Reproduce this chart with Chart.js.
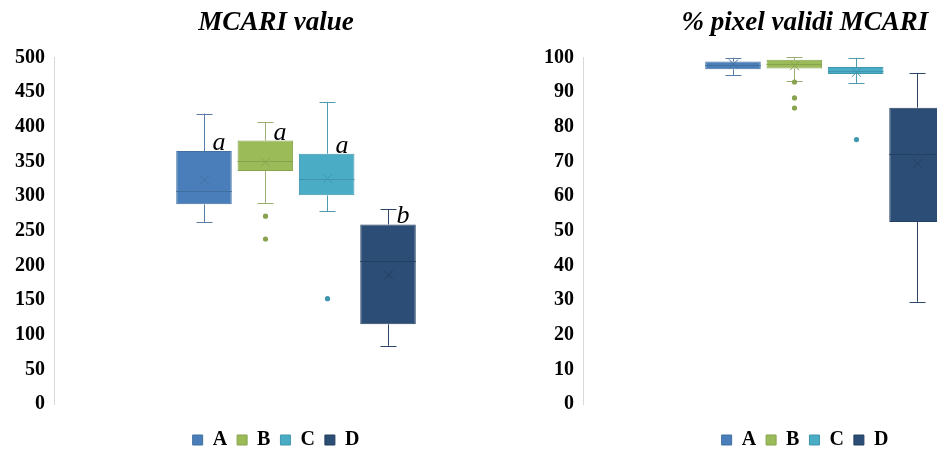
<!DOCTYPE html>
<html>
<head>
<meta charset="utf-8">
<script src="https://cdn.jsdelivr.net/npm/chart.js@4/dist/chart.umd.min.js"></script>
<style>
  html, body { margin: 0; padding: 0; background: #ffffff; overflow: hidden; width: 937px; height: 452px; }
  .panel { position: absolute; top: 0; }
  #left { left: 0; }
  #right { left: 529px; }
</style>
</head>
<body>
<canvas id="left" class="panel" width="552" height="460"></canvas>
<canvas id="right" class="panel" width="552" height="460"></canvas>
<script>
// Groups compared in both panels
const groups = ['A', 'B', 'C', 'D'];

// MCARI value: five-number summaries, means and outliers per group
const mcariMin = [262, 290, 278, 84];
const mcariQ1 = [288, 336, 301, 115];
const mcariMedian = [307, 350, 324, 206];
const mcariQ3 = [365, 380, 361, 259];
const mcariMax = [419, 407, 436, 281];
const mcariMean = [323, 349, 325, 186];
const mcariOutliers = [[], [271, 238], [152], []];
const mcariLetters = ['a', 'a', 'a', 'b'];
const mcariTicks = [0, 50, 100, 150, 200, 250, 300, 350, 400, 450, 500];

// % pixel validi MCARI: five-number summaries, means and outliers per group
const pctMin = [94.8, 93.3, 92.6, 29.5];
const pctQ1 = [96.6, 96.8, 95.2, 52.5];
const pctMedian = [97.8, 98.1, 96.2, 72.2];
const pctQ3 = [98.8, 99.3, 97.2, 85.5];
const pctMax = [99.9, 100, 99.9, 95.5];
const pctMean = [98.1, 97.6, 95.7, 69.4];
const pctOutliers = [[], [92.9, 88.3, 85.4], [76.3], []];
const pctLetters = ['', '', '', ''];
const pctTicks = [0, 10, 20, 30, 40, 50, 60, 70, 80, 90, 100];

// Styling
const fillColors = ['#4A7EBB', '#9BBB59', '#4BACC6', '#2C4D75'];
const edgeColors = ['#41709F', '#87A34E', '#3F97AF', '#243F60'];
const whiskerColors = ['#5A7DA8', '#9AAD72', '#4E9BB0', '#2C4466'];
const serif = "'Liberation Serif', 'Times New Roman', serif";

// Draws whiskers, medians, means, outliers and group letters on top of the boxes
const boxPlotPlugin = {
  id: 'boxPlot',
  afterDatasetsDraw(chart, args, opts) {
    const ctx = chart.ctx;
    const y = chart.scales.y;
    const py = v => y.getPixelForValue(v);
    chart.data.datasets.forEach((ds, i) => {
      const bar = chart.getDatasetMeta(i).data[0];
      const cx = Math.round(bar.x) + 0.5;
      const hw = bar.width / 2;
      const capHalf = 8;
      ctx.save();
      ctx.lineWidth = 1;

      // whiskers and caps
      ctx.strokeStyle = whiskerColors[i];
      ctx.beginPath();
      ctx.moveTo(cx, py(opts.q3[i])); ctx.lineTo(cx, py(opts.max[i]));
      ctx.moveTo(cx, py(opts.q1[i])); ctx.lineTo(cx, py(opts.min[i]));
      const yMax = Math.round(py(opts.max[i])) + 0.5;
      const yMin = Math.round(py(opts.min[i])) + 0.5;
      ctx.moveTo(cx - capHalf, yMax); ctx.lineTo(cx + capHalf, yMax);
      ctx.moveTo(cx - capHalf, yMin); ctx.lineTo(cx + capHalf, yMin);
      ctx.stroke();

      // median
      ctx.strokeStyle = edgeColors[i];
      const yMed = Math.round(py(opts.median[i])) + 0.5;
      ctx.beginPath();
      ctx.moveTo(bar.x - hw, yMed); ctx.lineTo(bar.x + hw, yMed);
      ctx.stroke();

      // mean marker
      const ym = py(opts.mean[i]);
      const m = 4.5;
      ctx.beginPath();
      ctx.moveTo(cx - m, ym - m); ctx.lineTo(cx + m, ym + m);
      ctx.moveTo(cx + m, ym - m); ctx.lineTo(cx - m, ym + m);
      ctx.stroke();

      // outliers
      ctx.fillStyle = edgeColors[i];
      opts.outliers[i].forEach(v => {
        ctx.beginPath();
        ctx.arc(cx, py(v), 2.6, 0, Math.PI * 2);
        ctx.fill();
      });

      // significance letter
      if (opts.letters[i]) {
        ctx.fillStyle = '#000000';
        ctx.font = 'italic 26px ' + serif;
        ctx.textAlign = 'left';
        ctx.textBaseline = 'alphabetic';
        ctx.fillText(opts.letters[i], cx + 8, py(opts.q3[i]) - 1);
      }
      ctx.restore();
    });
  }
};

function buildChart(canvasId, title, stats, ticks, maxValue) {
  const datasets = groups.map((g, i) => ({
    label: g,
    data: [[stats.q1[i], stats.q3[i]]],
    backgroundColor: fillColors[i],
    borderColor: edgeColors[i],
    borderWidth: 1,
    borderSkipped: false
  }));
  return new Chart(document.getElementById(canvasId), {
    type: 'bar',
    data: { labels: [''], datasets },
    plugins: [boxPlotPlugin],
    options: {
      responsive: false,
      animation: false,
      devicePixelRatio: 1,
      categoryPercentage: 0.507,
      barPercentage: 0.905,
      layout: { padding: { left: 14, right: 14, top: 0, bottom: 0 } },
      scales: {
        x: {
          type: 'category',
          display: true,
          grid: { display: false, drawTicks: false },
          border: { display: false },
          ticks: { display: false },
          afterFit: s => { s.height = 16; }
        },
        y: {
          min: 0,
          max: maxValue,
          grid: { display: false, drawTicks: false },
          border: { display: true, color: '#D9D9D9', width: 1 },
          afterBuildTicks: s => { s.ticks = ticks.map(v => ({ value: v })); },
          ticks: {
            color: '#000000',
            padding: 9,
            font: { family: serif, size: 20, weight: 'bold' }
          },
          afterFit: s => { s.width = 40; }
        }
      },
      plugins: {
        title: {
          display: true,
          text: title,
          color: '#000000',
          font: { family: serif, size: 27, weight: 'bold', style: 'italic' },
          padding: { top: 7, bottom: 18 }
        },
        legend: {
          display: true,
          position: 'bottom',
          labels: {
            color: '#000000',
            boxWidth: 10,
            boxHeight: 10,
            padding: 10,
            font: { family: serif, size: 20, weight: 'bold' }
          }
        },
        tooltip: { enabled: false },
        boxPlot: stats
      }
    }
  });
}

buildChart('left', 'MCARI value', {
  min: mcariMin, q1: mcariQ1, median: mcariMedian, q3: mcariQ3, max: mcariMax,
  mean: mcariMean, outliers: mcariOutliers, letters: mcariLetters
}, mcariTicks, 500);

buildChart('right', '% pixel validi MCARI', {
  min: pctMin, q1: pctQ1, median: pctMedian, q3: pctQ3, max: pctMax,
  mean: pctMean, outliers: pctOutliers, letters: pctLetters
}, pctTicks, 100);
</script>
</body>
</html>
